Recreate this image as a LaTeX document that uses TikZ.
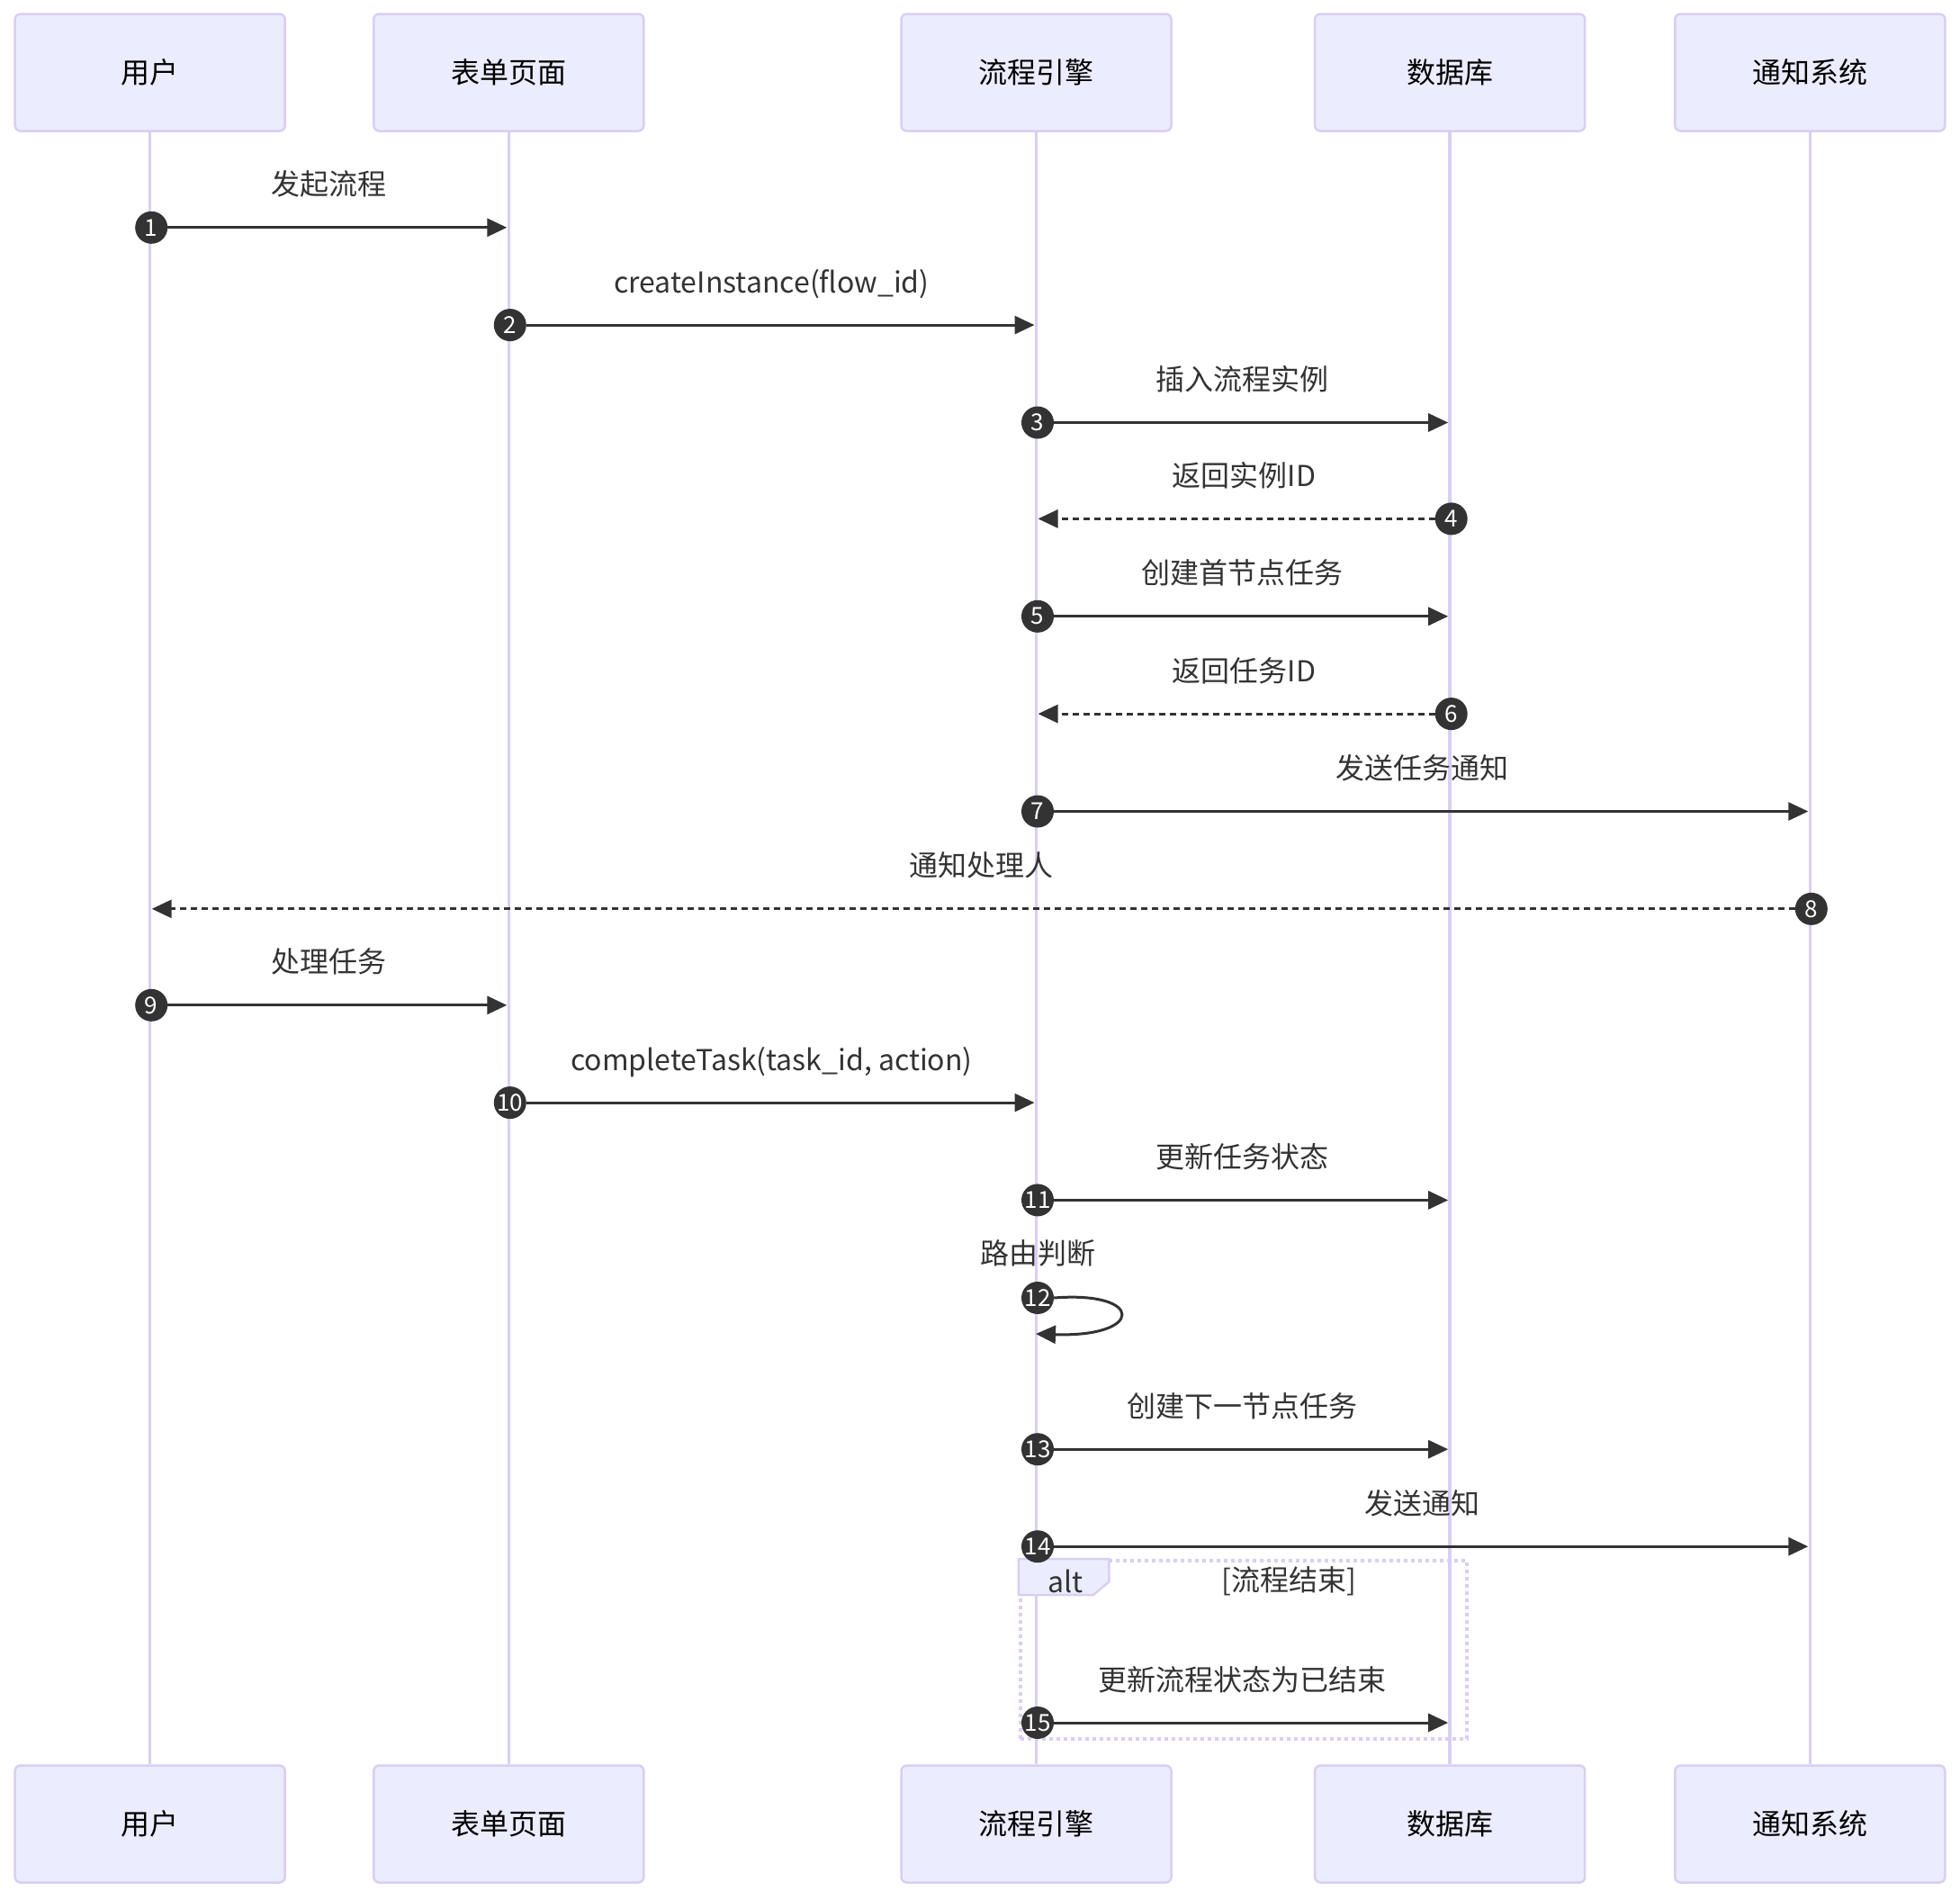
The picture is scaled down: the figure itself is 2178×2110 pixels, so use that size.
\documentclass[tikz,border=0pt]{standalone}
\usepackage{fontspec}
\setmainfont{Noto Sans CJK SC}
\usetikzlibrary{arrows.meta}
\definecolor{actfill}{HTML}{ECECFF}
\definecolor{actline}{HTML}{DACEF3}
\definecolor{ink}{HTML}{333333}
\tikzset{
  actor/.style={draw=actline, fill=actfill, line width=2.5pt, rounded corners=6pt,
    minimum width=300pt, minimum height=130pt, inner sep=0pt,
    font=\fontsize{32}{38}\selectfont, text=black},
  life/.style={draw=actline, line width=3.5pt},
  msg/.style={draw=ink, line width=3pt, -{Triangle[length=22pt,width=20pt]}},
  rmsg/.style={msg, dash pattern=on 7pt off 5pt},
  num/.style={circle, fill=ink, text=white, minimum size=36pt, inner sep=0pt,
    font=\fontsize{26}{26}\selectfont},
  lbl/.style={text=ink, font=\fontsize{32}{38}\selectfont, text height=28pt,
    text depth=4pt, inner sep=0pt},
  altframe/.style={draw=actline, line width=4pt, dash pattern=on 4pt off 4pt,
    minimum width=496pt, minimum height=198pt, inner sep=0pt},
  alttab/.style={draw=actline, fill=actfill, line width=2.5pt},
}
\newcommand\seqmsg[6]{%
  \node[lbl] (l#1) at ({(#2+#3)/2},{#4-48}) {#6};
  \coordinate (e#1) at (#3,#4);
  \node[num] (c#1) at ({#2+1.5},#4) {#1};
  \draw[#5] (c#1) -- (e#1);
}
\begin{document}
\begin{tikzpicture}[x=1pt,y=-1pt]
\useasboundingbox (0,0) rectangle (2178,2110);
% actors top
\node[actor] (A) at (166.7,80.5) {用户};
\node[actor] (B) at (565.3,80.5) {表单页面};
\node[actor] (C) at (1151.5,80.5) {流程引擎};
\node[actor] (D) at (1611.2,80.5) {数据库};
\node[actor] (E) at (2011.3,80.5) {通知系统};
% actors bottom
\node[actor] (A2) at (166.7,2026.5) {用户};
\node[actor] (B2) at (565.3,2026.5) {表单页面};
\node[actor] (C2) at (1151.5,2026.5) {流程引擎};
\node[actor] (D2) at (1611.2,2026.5) {数据库};
\node[actor] (E2) at (2011.3,2026.5) {通知系统};
% lifelines
\foreach \p in {A,B,C,D,E} { \draw[life] (\p.south) -- (\p2.north); }
% alt frame
\node[altframe] (alt) at (1381.75,1833) {};
\draw[alttab] (alt.north west) -- ++(100.5,0) -- ++(0,25.5) -- ++(-17.3,14.5) -- ++(-83.2,0) -- cycle;
\node[lbl] (altlbl) at (1184,1757) {alt};
\node[lbl] (altcond) at (1432,1755) {[流程结束]};
% messages
\seqmsg{1}{166.7}{563.3}{252.8}{msg}{发起流程}
\seqmsg{2}{565.3}{1149.5}{361.1}{msg}{createInstance(flow\_id)}
\seqmsg{3}{1151.5}{1609.2}{469.5}{msg}{插入流程实例}
\seqmsg{4}{1611.2}{1153.5}{576.4}{rmsg}{返回实例ID}
\seqmsg{5}{1151.5}{1609.2}{684.8}{msg}{创建首节点任务}
\seqmsg{6}{1611.2}{1153.5}{793.1}{rmsg}{返回任务ID}
\seqmsg{7}{1151.5}{2009.3}{901.5}{msg}{发送任务通知}
\seqmsg{8}{2011.3}{168.7}{1009.8}{rmsg}{通知处理人}
\seqmsg{9}{166.7}{563.3}{1116.8}{msg}{处理任务}
\seqmsg{10}{565.3}{1149.5}{1225.1}{msg}{completeTask(task\_id, action)}
\seqmsg{11}{1151.5}{1609.2}{1333.4}{msg}{更新任务状态}
% self loop
\node[lbl] (l12) at (1153,1392) {路由判断};
\node[num] (c12) at (1153,1442) {12};
\coordinate (e12) at (1151,1482);
\draw[msg] (c12.east) .. controls (1272,1434) and (1272,1486) .. (e12);
\seqmsg{13}{1151.5}{1609.2}{1610.2}{msg}{创建下一节点任务}
\seqmsg{14}{1151.5}{2009.3}{1718.2}{msg}{发送通知}
\seqmsg{15}{1151.5}{1609.2}{1914}{msg}{更新流程状态为已结束}
\end{tikzpicture}
\end{document}
